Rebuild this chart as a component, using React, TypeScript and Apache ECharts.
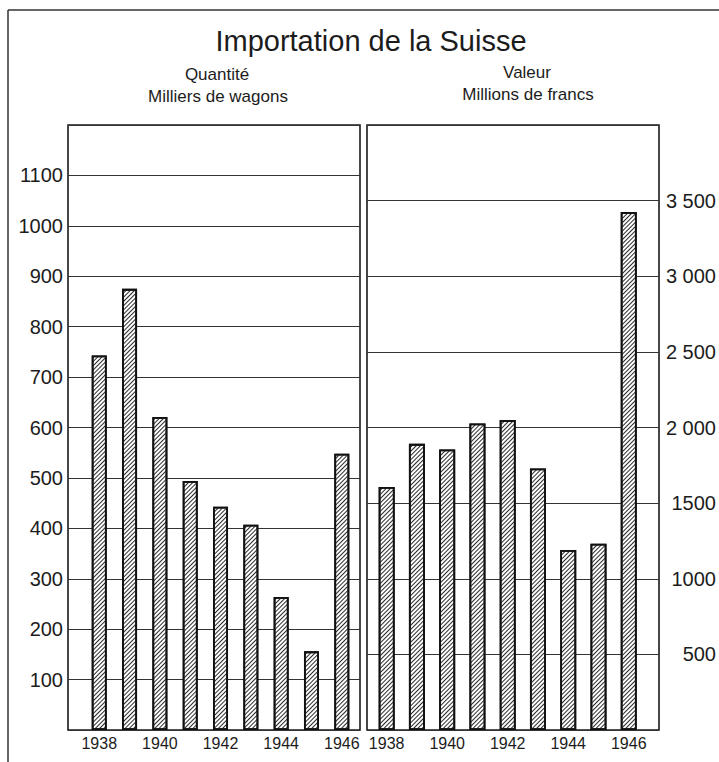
import React, { useEffect, useRef } from 'react';
import * as echarts from 'echarts';

const years = [1938, 1939, 1940, 1941, 1942, 1943, 1944, 1945, 1946];
const quantite = [743, 875, 621, 494, 443, 407, 264, 156, 548];
const valeur = [1607, 1892, 1855, 2027, 2049, 1729, 1190, 1231, 3424];
const yearLabels = [1938, 1940, 1942, 1944, 1946];

const titleText = 'Importation de la Suisse';
const leftHeader = ['Quantité', 'Milliers de wagons'];
const rightHeader = ['Valeur', 'Millions de francs'];

const FONT = '"Liberation Sans", Arial, sans-serif';
const INK = '#1c1c1c';

const hatch = {
  symbol: 'rect',
  symbolSize: 1,
  dashArrayX: [1, 0],
  dashArrayY: [1, 1.9],
  rotation: -Math.PI / 4,
  color: '#2a2a2a',
  backgroundColor: '#ffffff',
};

function fmtValeur(v: number): string {
  if (v === 0 || v === 4000) return '';
  if (v >= 2000) {
    const s = String(v);
    return s.slice(0, 1) + ' ' + s.slice(1);
  }
  return String(v);
}

export default function App() {
  const ref = useRef<HTMLDivElement>(null);
  useEffect(() => {
    if (!ref.current) return;
    const chart = echarts.init(ref.current, null, { renderer: 'svg' });
    const splitLine = { show: true, lineStyle: { color: '#333', width: 1 } };
    const xAxisCommon = {
      type: 'value',
      axisLine: { show: false },
      axisTick: { show: false },
      splitLine: { show: false },
      axisLabel: {
        customValues: yearLabels,
        fontSize: 16,
        fontFamily: FONT,
        color: INK,
        margin: 5,
        formatter: (v: number) => String(v),
      },
    };
    chart.setOption({
      animation: false,
      backgroundColor: '#ffffff',
      grid: [
        { left: 68, top: 125, width: 292, height: 605, show: true, borderColor: '#1a1a1a', borderWidth: 1.6 },
        { left: 367, top: 125, width: 294, height: 605, show: true, borderColor: '#1a1a1a', borderWidth: 1.6 },
      ],
      xAxis: [
        { ...xAxisCommon, gridIndex: 0, min: 1936.97, max: 1946.6 },
        { ...xAxisCommon, gridIndex: 1, min: 1937.35, max: 1947.0 },
      ],
      yAxis: [
        {
          type: 'value',
          gridIndex: 0,
          min: 0,
          max: 1200,
          interval: 100,
          axisLine: { show: false },
          axisTick: { show: false },
          splitLine,
          axisLabel: {
            fontSize: 20,
            fontFamily: FONT,
            color: INK,
            margin: 5,
            verticalAlign: 'middle',
            padding: [0, 0, 14, 0],
            formatter: (v: number) => (v === 0 || v === 1200 ? '' : String(v)),
          },
        },
        {
          type: 'value',
          gridIndex: 1,
          position: 'right',
          min: 0,
          max: 4000,
          interval: 500,
          axisLine: { show: false },
          axisTick: { show: false },
          splitLine,
          axisLabel: {
            fontSize: 20,
            fontFamily: FONT,
            color: INK,
            margin: 57,
            align: 'right',
            verticalAlign: 'middle',
            padding: [0, 0, 14, 0],
            formatter: fmtValeur,
          },
        },
      ],
      series: [
        {
          type: 'bar',
          xAxisIndex: 0,
          yAxisIndex: 0,
          barWidth: 15,
          data: years.map((y, i) => [y, quantite[i]]),
          itemStyle: { color: '#ffffff', borderColor: '#111', borderWidth: 1.8, decal: hatch },
        },
        {
          type: 'bar',
          xAxisIndex: 1,
          yAxisIndex: 1,
          barWidth: 16,
          data: years.map((y, i) => [y, valeur[i]]),
          itemStyle: { color: '#ffffff', borderColor: '#111', borderWidth: 1.8, decal: hatch },
        },
      ],
      graphic: [
        { type: 'line', shape: { x1: 8, y1: 10, x2: 719, y2: 10 }, style: { stroke: '#333', lineWidth: 1.5 } },
        { type: 'line', shape: { x1: 8, y1: 10, x2: 8, y2: 762 }, style: { stroke: '#333', lineWidth: 1.5 } },
        {
          type: 'text', x: 371, y: 41,
          style: { text: titleText, font: `29px ${FONT}`, fill: INK, align: 'center', verticalAlign: 'middle' },
        },
        {
          type: 'text', x: 217, y: 74,
          style: { text: leftHeader[0], font: `17px ${FONT}`, fill: INK, align: 'center', verticalAlign: 'middle' },
        },
        {
          type: 'text', x: 218, y: 96,
          style: { text: leftHeader[1], font: `17px ${FONT}`, fill: INK, align: 'center', verticalAlign: 'middle' },
        },
        {
          type: 'text', x: 527, y: 72,
          style: { text: rightHeader[0], font: `17px ${FONT}`, fill: INK, align: 'center', verticalAlign: 'middle' },
        },
        {
          type: 'text', x: 528, y: 94,
          style: { text: rightHeader[1], font: `17px ${FONT}`, fill: INK, align: 'center', verticalAlign: 'middle' },
        },
      ],
    });
    return () => chart.dispose();
  }, []);
  return (
    <div
      ref={ref}
      style={{ position: 'fixed', left: 0, top: 0, width: 719, height: 762, background: '#fff' }}
    />
  );
}
